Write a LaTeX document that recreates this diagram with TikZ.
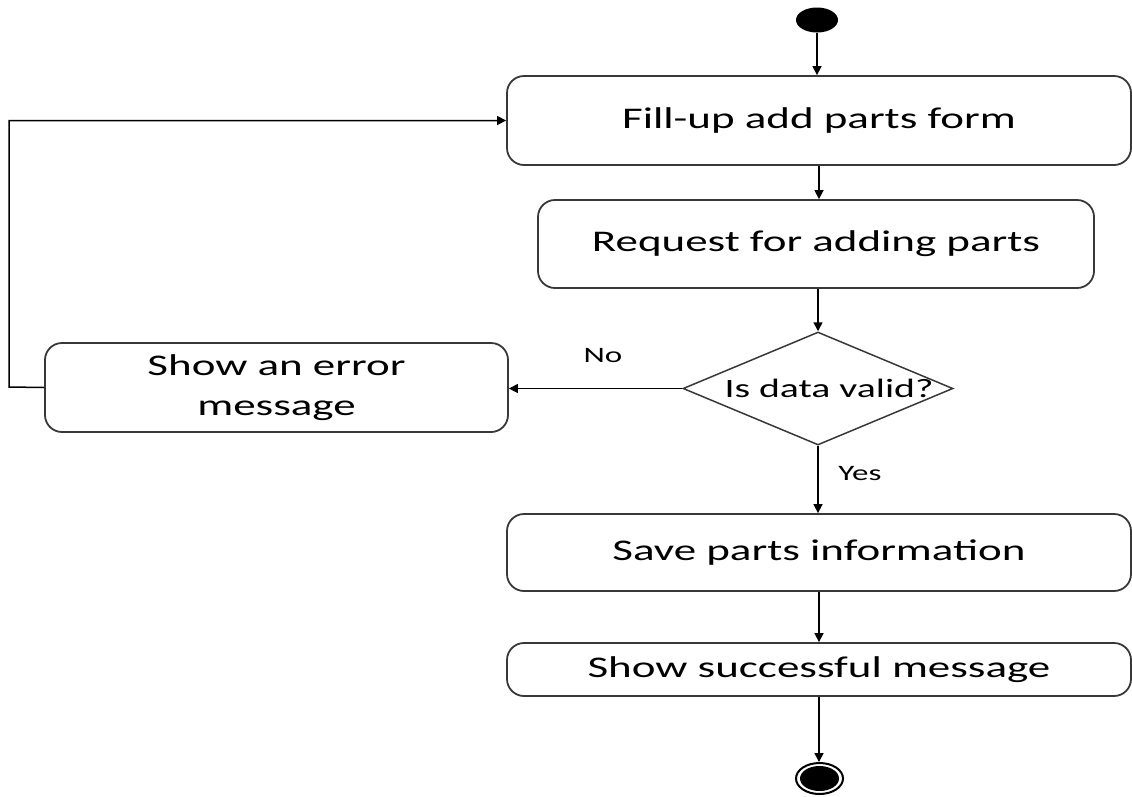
\documentclass[tikz,border=0pt]{standalone}
\usepackage{fontspec}
\setmainfont{Carlito}[FakeStretch=1.5]
\usetikzlibrary{shapes.geometric,arrows.meta}
\begin{document}
\begin{tikzpicture}[x=1pt,y=-1pt,
  box/.style={draw=black!78, line width=1.8pt, rounded corners=17pt,
    font=\fontsize{30}{40}\selectfont, inner sep=0pt, align=center},
  dec/.style={draw=black!78, line width=1.5pt, shape=diamond, inner sep=0pt,
    aspect=2.39, minimum width=270pt, minimum height=113pt},
  dectext/.style={font=\fontsize{26.5}{32}\selectfont, xshift=11pt},
  lab/.style={font=\fontsize{22}{26}\selectfont},
  arr/.style={-{Triangle[length=9pt,width=9pt]}, line width=1.5pt},
]
\useasboundingbox (0,0) rectangle (1132,796);

\node[fill=black, ellipse, minimum width=42pt, minimum height=25pt, inner sep=0pt] (start) at (817,20) {};
\node[box, minimum width=624pt, minimum height=89pt] (b1) at (819,120.5) {Fill-up add parts form};
\node[box, minimum width=556pt, minimum height=88pt] (b2) at (816,244) {Request for adding parts};
\node[dec, label={[dectext]center:Is data valid?}] (dec) at (818,388.5) {};
\node[box, minimum width=463pt, minimum height=89pt] (b3) at (276.5,387.5) {Show an error\\message};
\node[box, minimum width=624pt, minimum height=77pt] (b4) at (819,552.5) {Save parts information};
\node[box, minimum width=624pt, minimum height=53pt] (b5) at (819,669.5) {Show successful message};
\node[draw, ellipse, line width=2pt, minimum width=47pt, minimum height=31pt, inner sep=0pt] (end) at (819.5,778.5) {};
\fill (end.center) ellipse [x radius=19.5pt, y radius=12.5pt];

\node[lab] (no) at (603,356) {No};
\node[lab] (yes) at (860,474) {Yes};
\coordinate (loop) at (9,387);

\draw[arr] (start.south) -- (start.south |- b1.north);
\draw[arr] (b1.south) -- (b1.south |- b2.north);
\draw[arr] (b2.south -| dec.north) -- (dec.north);
\draw[arr] (dec.west) -- (dec.west -| b3.east);
\draw[arr] (dec.south) -- (dec.south |- b4.north);
\draw[arr] (b4.south) -- (b5.north);
\draw[arr] (b5.south) -- (b5.south |- end.north);
\draw[arr] (b3.west) -- (loop) |- (b1.west);
\end{tikzpicture}
\end{document}
